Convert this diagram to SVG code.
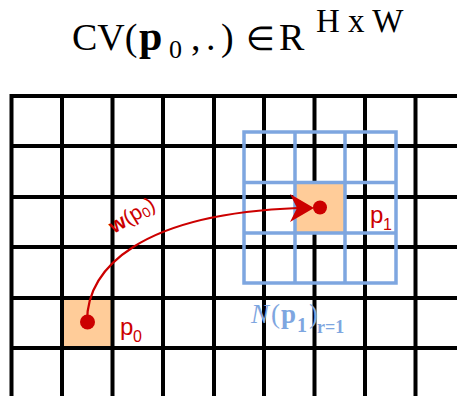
<svg xmlns="http://www.w3.org/2000/svg" width="457" height="396" viewBox="0 0 457 396">
<style>
.serif{font-family:"Liberation Serif","Times New Roman",serif;fill:#000}
.grid{stroke:#000;stroke-width:4;fill:none}
.blue{stroke:#7EA6E0;stroke-width:3.5;fill:none}
.red{font-family:"Liberation Sans",Arial,sans-serif;fill:#CC0000}
.nb{font-family:"Liberation Serif","Times New Roman",serif;fill:#7EA6E0}
</style>
<rect width="457" height="396" fill="#fff"/>
<g id="title">
<text class="serif" y="50" font-size="38"><tspan x="72">CV(</tspan><tspan x="139" font-size="42" font-weight="bold">p</tspan><tspan x="169" y="58" font-size="26">0</tspan><tspan x="191" y="50">,</tspan><tspan x="206">.</tspan><tspan x="221">)</tspan><tspan x="246" font-size="33">∈</tspan><tspan x="279">R</tspan><tspan x="316" y="32" font-size="33">H x W</tspan></text>
</g>
<g id="cell-p0"><rect x="62" y="298" width="50" height="50" fill="#FFCC99"/></g>
<g id="grid">
<path class="grid" d="M9.5 96H457M11.5 146H457M11.5 197H457M11.5 247H457M11.5 298H457M11.5 348H457
M11.5 94V396M62 94V396M112.5 94V396M163 94V396M214 94V396M264 94V396M314.5 94V396M365 94V396M415.5 94V396"/>
</g>
<g id="cell-p1"><rect x="295" y="183" width="50" height="50" fill="#FFCC99"/></g>
<g id="neighborhood">
<rect class="blue" x="244" y="132" width="152" height="151"/>
<path class="blue" d="M295 132V283M345 132V283M244 182.5H396M244 233H396"/>
</g>
<g id="connectors">
<path d="M87 322C87 268 140 214 298 208" fill="none" stroke="#CC0000" stroke-width="2.2"/>
<polygon points="314,208 290,194 297,208 290,222" fill="#CC0000"/>
</g>
<g id="p0">
<circle cx="87.5" cy="322" r="7.5" fill="#CC0000"/>
<text class="red" font-size="24" x="120" y="335">p<tspan x="133" y="342" font-size="16">0</tspan></text>
</g>
<g id="p1">
<circle cx="320" cy="207.5" r="7" fill="#CC0000"/>
<text class="red" font-size="24" x="370" y="223">p<tspan x="383" y="230" font-size="16">1</tspan></text>
</g>
<g id="w-label">
<text class="red" font-size="21" x="114" y="234" transform="rotate(-31 114 234)"><tspan font-weight="bold">w</tspan>(p<tspan font-size="14" dy="3">0</tspan><tspan dy="-3">)</tspan></text>
</g>
<g id="n-label">
<text class="nb" y="323" font-size="27"><tspan x="251" font-style="italic">N</tspan><tspan x="271">(</tspan><tspan x="281" font-weight="bold">p</tspan><tspan x="297" y="332" font-size="20" font-weight="bold">1</tspan><tspan x="309" y="323">)</tspan><tspan x="317" y="333" font-size="18" font-weight="bold">r=1</tspan></text>
</g>
</svg>
